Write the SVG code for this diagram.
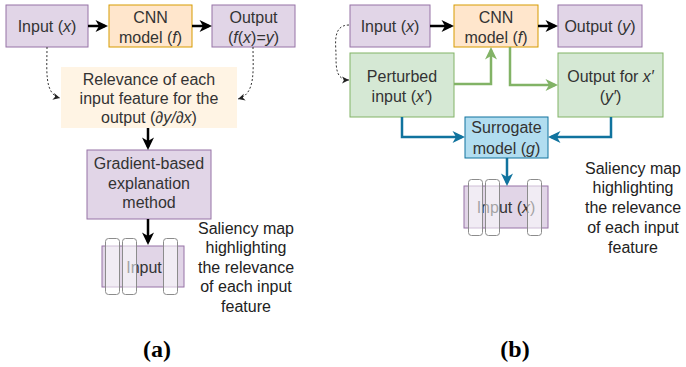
<svg xmlns="http://www.w3.org/2000/svg" width="686" height="367" viewBox="0 0 686 367">
  <defs>
    <marker id="arrBlack" markerUnits="userSpaceOnUse" markerWidth="14" markerHeight="14" viewBox="0 0 14 14" refX="10" refY="7" orient="auto">
      <path d="M0.5,1 L13,7 L0.5,13 L4,7 z" fill="#000"/>
    </marker>
    <marker id="arrGreen" markerUnits="userSpaceOnUse" markerWidth="14" markerHeight="14" viewBox="0 0 14 14" refX="10" refY="7" orient="auto">
      <path d="M0.5,1 L13,7 L0.5,13 L4,7 z" fill="#82b366"/>
    </marker>
    <marker id="arrBlue" markerUnits="userSpaceOnUse" markerWidth="14" markerHeight="14" viewBox="0 0 14 14" refX="10" refY="7" orient="auto">
      <path d="M0.5,1 L13,7 L0.5,13 L4,7 z" fill="#10739e"/>
    </marker>
    <marker id="arrDash" markerUnits="userSpaceOnUse" markerWidth="8" markerHeight="8" viewBox="0 0 8 8" refX="7" refY="4" orient="auto">
      <path d="M0,0.5 L7,4 L0,7.5 L2,4 z" fill="#222"/>
    </marker>
  </defs>
  <style>
    text { font-family: "Liberation Sans", Arial, sans-serif; font-size: 16px; fill: #333; text-anchor: middle; }
    .purple { fill: #e1d5e7; stroke: #9673a6; stroke-width: 1; }
    .orange { fill: #ffe6cc; stroke: #d79b00; stroke-width: 1; }
    .green { fill: #d5e8d4; stroke: #82b366; stroke-width: 1; }
    .blue { fill: #b1ddf0; stroke: #10739e; stroke-width: 1; }
    .cream { fill: #fff4e4; stroke: none; }
    .overlay { fill: #ffffff; fill-opacity: 0.55; stroke: #8c8c8c; stroke-width: 1; }
    .e-black { fill: none; stroke: #000; stroke-width: 2.5; marker-end: url(#arrBlack); }
    .e-green { fill: none; stroke: #82b366; stroke-width: 2.5; marker-end: url(#arrGreen); }
    .e-blue { fill: none; stroke: #10739e; stroke-width: 2.5; marker-end: url(#arrBlue); }
    .e-dash { fill: none; stroke: #333; stroke-width: 1; stroke-dasharray: 2 2; marker-end: url(#arrDash); }
    .label { font-family: "Liberation Serif", "Times New Roman", serif; font-size: 24px; font-weight: bold; fill: #000; }
    .note { fill: #222; }
  </style>

  <!-- (a) gradient-based explanation -->
  <g id="a-input">
    <rect class="purple" x="6" y="5" width="82" height="42"/>
    <text x="47" y="32">Input (<tspan font-style="italic">x</tspan>)</text>
  </g>
  <g id="a-cnn">
    <rect class="orange" x="109" y="5" width="83" height="42"/>
    <text x="150.5" y="23">CNN</text>
    <text x="150.5" y="43">model (<tspan font-style="italic">f</tspan>)</text>
  </g>
  <g id="a-output">
    <rect class="purple" x="212" y="5" width="83" height="42"/>
    <text x="253.5" y="23">Output</text>
    <text x="253.5" y="43">(<tspan font-style="italic">f</tspan>(<tspan font-style="italic">x</tspan>)=<tspan font-style="italic">y</tspan>)</text>
  </g>
  <g id="a-relevance">
    <rect class="cream" x="61" y="67" width="176" height="61"/>
    <text x="149" y="85">Relevance of each</text>
    <text x="149" y="104">input feature for the</text>
    <text x="149" y="123">output (<tspan font-style="italic">∂y/∂x</tspan>)</text>
  </g>
  <g id="a-gradient">
    <rect class="purple" x="87" y="150" width="124" height="69"/>
    <text x="149" y="169">Gradient-based</text>
    <text x="149" y="189">explanation</text>
    <text x="149" y="208">method</text>
  </g>
  <g id="a-saliency">
    <rect class="purple" x="102" y="246" width="82" height="41"/>
    <text x="144" y="273">Input</text>
    <rect class="overlay" x="105.5" y="238.5" width="14" height="56" rx="3"/>
    <rect class="overlay" x="122.5" y="238.5" width="14" height="56" rx="3"/>
    <rect class="overlay" x="163.5" y="238.5" width="14" height="56" rx="3"/>
  </g>
  <g id="a-note">
    <text class="note" x="246" y="234">Saliency map</text>
    <text class="note" x="246" y="253">highlighting</text>
    <text class="note" x="246" y="273">the relevance</text>
    <text class="note" x="246" y="292">of each input</text>
    <text class="note" x="246" y="312">feature</text>
  </g>

  <!-- (b) surrogate-based explanation -->
  <g id="b-input">
    <rect class="purple" x="350" y="5" width="80" height="42"/>
    <text x="390" y="32">Input (<tspan font-style="italic">x</tspan>)</text>
  </g>
  <g id="b-cnn">
    <rect class="orange" x="454" y="5" width="84" height="42"/>
    <text x="496" y="23">CNN</text>
    <text x="496" y="43">model (<tspan font-style="italic">f</tspan>)</text>
  </g>
  <g id="b-output">
    <rect class="purple" x="558" y="5" width="84" height="42"/>
    <text x="600" y="32">Output (<tspan font-style="italic">y</tspan>)</text>
  </g>
  <g id="b-perturbed">
    <rect class="green" x="350" y="53" width="104" height="64"/>
    <text x="402" y="82">Perturbed</text>
    <text x="402" y="102">input (<tspan font-style="italic">x′</tspan>)</text>
  </g>
  <g id="b-output-perturbed">
    <rect class="green" x="558" y="53" width="105" height="64"/>
    <text x="610.5" y="82">Output for <tspan font-style="italic">x′</tspan></text>
    <text x="610.5" y="102">(<tspan font-style="italic">y′</tspan>)</text>
  </g>
  <g id="b-surrogate">
    <rect class="blue" x="465" y="117" width="83" height="41"/>
    <text x="506.5" y="133">Surrogate</text>
    <text x="506.5" y="154">model (<tspan font-style="italic">g</tspan>)</text>
  </g>
  <g id="b-saliency">
    <rect class="purple" x="464" y="186" width="84" height="42"/>
    <text x="506" y="213">Input (<tspan font-style="italic">x</tspan>)</text>
    <rect class="overlay" x="468.5" y="179.5" width="14" height="56" rx="3"/>
    <rect class="overlay" x="485.5" y="179.5" width="14" height="56" rx="3"/>
    <rect class="overlay" x="527.5" y="179.5" width="14" height="56" rx="3"/>
  </g>
  <g id="b-note">
    <text class="note" x="633" y="174">Saliency map</text>
    <text class="note" x="633" y="193">highlighting</text>
    <text class="note" x="633" y="213">the relevance</text>
    <text class="note" x="633" y="233">of each input</text>
    <text class="note" x="633" y="253">feature</text>
  </g>

  <!-- panel captions -->
  <g id="captions">
    <text class="label" x="157" y="357">(a)</text>
    <text class="label" x="515" y="357">(b)</text>
  </g>

  <!-- connectors -->
  <g id="connectors">
    <path class="e-black" d="M88,26 L105,26"/>
    <path class="e-black" d="M192,26 L209,26"/>
    <path class="e-black" d="M148,128 L148,147"/>
    <path class="e-black" d="M148,219 L148,242"/>
    <path class="e-dash" d="M47,47 C47,70 44,94 60,98"/>
    <path class="e-dash" d="M253,47 C253,70 256,94 238,99"/>

    <path class="e-black" d="M430,26 L451,26"/>
    <path class="e-black" d="M538,26 L555,26"/>
    <path class="e-dash" d="M349,25 C332,25 336,45 336,55 C336,68 336,80 349,80"/>
    <path class="e-green" d="M454,84 L491,84 L491,50"/>
    <path class="e-green" d="M510,47 L510,85 L555,85"/>
    <path class="e-blue" d="M402,117 L402,137 L462,137"/>
    <path class="e-blue" d="M611,117 L611,137 L551,137"/>
    <path class="e-blue" d="M507,158 L507,183"/>
  </g>
</svg>
